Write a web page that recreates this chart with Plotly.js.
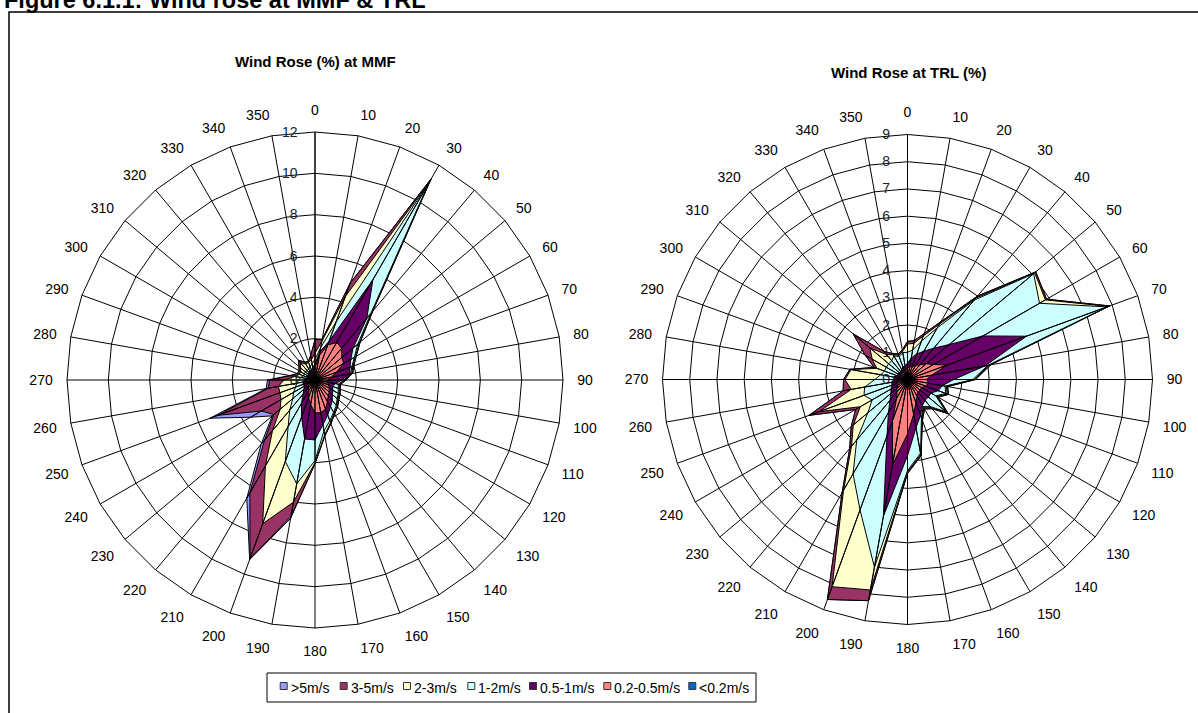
<!DOCTYPE html>
<html>
<head>
<meta charset="utf-8">
<script src="https://cdn.plot.ly/plotly-3.0.1.min.js"></script>
<style>
  html, body { margin: 0; padding: 0; background: #fff; }
  #chart { width: 1198px; height: 713px; }
</style>
</head>
<body>
<div id="chart"></div>
<script>
// Wind direction sectors (degrees from north)
const directions = ['0','10','20','30','40','50','60','70','80','90','100','110',
  '120','130','140','150','160','170','180','190','200','210','220','230',
  '240','250','260','270','280','290','300','310','320','330','340','350'];

// Speed classes, outermost band first
const speedClasses = ['>5m/s', '3-5m/s', '2-3m/s', '1-2m/s', '0.5-1m/s', '0.2-0.5m/s', '<0.2m/s'];

// MMF: cumulative frequency (%) up to each speed class, per direction
const mmfAbove5 = [1.95,2.0,5.0,11.25,4.35,2.85,2.3,2.0,1.85,1.5,1.25,1.3,
  1.4,1.5,1.7,1.9,2.25,2.75,4.05,6.8,9.25,6.6,4.05,2.7,
  3.6,5.4,2.4,2.3,1.25,0.9,0.9,1.0,1.25,1.0,0.95,1.2];
const mmf3to5 = [1.95,2.0,5.0,11.2,4.35,2.85,2.3,2.0,1.85,1.5,1.25,1.3,
  1.4,1.5,1.7,1.9,2.25,2.75,4.05,6.7,9.2,6.3,3.8,2.6,
  3.0,5.0,2.3,2.2,1.2,0.9,0.9,1.0,1.25,1.0,0.95,1.2];
const mmf2to3 = [1.3,1.9,4.3,11.1,4.3,2.8,2.25,1.95,1.8,1.45,1.2,1.25,
  1.35,1.45,1.65,1.85,2.2,2.7,4.0,6.0,7.4,4.8,3.2,2.2,
  1.9,1.8,1.8,1.5,1.0,0.8,0.8,0.9,1.1,0.9,0.9,1.0];
const mmf1to2 = [1.0,1.6,3.0,11.0,4.2,2.7,2.2,1.9,1.75,1.4,1.15,1.2,
  1.3,1.4,1.6,1.8,2.1,2.5,3.9,5.1,4.2,2.6,1.9,1.4,
  1.2,1.0,0.9,0.8,0.7,0.6,0.6,0.6,0.6,0.6,0.7,0.8];
const mmf05to1 = [0.8,1.4,2.0,5.6,3.9,2.4,2.0,1.8,1.7,1.3,1.0,0.9,
  1.0,1.1,1.3,1.5,1.8,2.2,2.9,2.9,1.9,1.3,0.9,0.7,
  0.6,0.6,0.6,0.5,0.4,0.4,0.4,0.4,0.5,0.5,0.5,0.6];
const mmf02to05 = [0.6,1.2,1.8,2.1,2.0,1.7,1.6,1.1,0.8,0.6,0.6,0.7,
  0.8,0.9,1.0,1.2,1.5,1.6,1.6,1.2,0.9,0.6,0.5,0.4,
  0.4,0.4,0.4,0.4,0.3,0.3,0.3,0.3,0.3,0.3,0.3,0.4];
const mmfBelow02 = [0.15,0.15,0.15,0.15,0.15,0.15,0.15,0.15,0.15,0.15,0.15,0.15,
  0.15,0.15,0.15,0.15,0.15,0.15,0.15,0.15,0.15,0.15,0.15,0.15,
  0.15,0.15,0.15,0.15,0.15,0.15,0.15,0.15,0.15,0.15,0.15,0.15];

// TRL: cumulative frequency (%) up to each speed class, per direction
const trlAbove5 = [1.4,1.45,1.8,2.45,4.0,6.15,5.9,7.9,3.1,2.5,1.5,1.6,
  1.3,1.95,1.4,1.25,1.6,2.85,3.45,8.25,8.6,4.8,3.3,2.7,
  2.2,3.85,2.4,2.35,2.15,1.3,1.8,2.6,1.35,1.1,1.0,1.1];
const trl3to5 = [1.4,1.45,1.8,2.45,4.0,6.15,5.9,7.9,3.1,2.5,1.5,1.6,
  1.3,1.95,1.4,1.25,1.6,2.85,3.45,8.25,8.6,4.8,3.3,2.7,
  2.2,3.85,2.4,2.35,2.15,1.3,1.8,2.6,1.35,1.1,1.0,1.1];
const trl2to3 = [1.3,1.35,1.7,2.35,3.9,6.1,5.85,7.85,3.05,2.45,1.45,1.55,
  1.25,1.9,1.35,1.2,1.55,2.8,3.4,7.85,8.1,4.7,3.2,2.6,
  2.0,3.45,2.1,2.3,2.1,1.2,1.5,1.8,1.2,1.05,0.95,1.05];
const trl1to2 = [1.0,1.1,1.5,2.2,3.8,6.05,5.6,7.8,3.0,2.4,1.4,1.5,
  1.2,1.85,1.3,1.15,1.5,2.75,3.35,7.0,5.1,4.0,2.9,1.9,
  1.5,1.7,1.6,1.2,1.0,0.9,0.9,0.9,0.9,1.0,0.9,1.0];
const trl05to1 = [0.6,0.8,1.0,1.2,1.5,2.0,3.2,4.65,2.9,1.7,1.3,1.2,
  1.0,1.0,1.0,1.1,1.4,1.8,2.8,5.1,2.2,1.4,1.0,0.8,
  0.7,0.6,0.6,0.5,0.5,0.4,0.4,0.4,0.4,0.4,0.5,0.5];
const trl02to05 = [0.4,0.5,0.5,0.6,0.7,0.9,1.1,1.55,0.9,0.7,0.8,0.7,
  0.6,0.6,0.6,0.7,0.9,1.3,2.0,3.2,1.6,0.8,0.6,0.5,
  0.4,0.4,0.4,0.3,0.3,0.3,0.3,0.3,0.3,0.3,0.3,0.4];
const trlBelow02 = [0.15,0.15,0.15,0.15,0.15,0.15,0.15,0.15,0.15,0.15,0.15,0.15,
  0.15,0.15,0.15,0.15,0.15,0.15,0.15,0.15,0.15,0.15,0.15,0.15,
  0.15,0.15,0.15,0.15,0.15,0.15,0.15,0.15,0.15,0.15,0.15,0.15];

// Radial tick values for each rose
const mmfRadialTicks = [0, 2, 4, 6, 8, 10, 12];
const trlRadialTicks = [0, 1, 2, 3, 4, 5, 6, 7, 8, 9];

// ---- styling ----
const classColors = ['#9999FF', '#993366', '#FFFFCC', '#CCFFFF', '#660066', '#FF8080', '#0066CC'];
const FONT = 'Liberation Sans, Arial, Helvetica, sans-serif';
const W = 1198, H = 713;
const px = x => x / W;
const py = y => 1 - y / H;

// Each band is drawn as a fan of triangles from the centre, so every
// data point also gets a radial edge line, as in a filled radar chart.
function fan(values) {
  const th = [], r = [];
  const n = directions.length;
  for (let i = 0; i < n; i++) {
    const j = (i + 1) % n;
    th.push(directions[i], directions[i], directions[j]);
    r.push(0, values[i], values[j]);
  }
  th.push(directions[0]);
  r.push(0);
  return { th, r };
}

function bandTraces(seriesList, subplot) {
  return seriesList.map((vals, k) => {
    const f = fan(vals);
    return {
      type: 'scatterpolar',
      subplot: subplot,
      theta: f.th,
      r: f.r,
      mode: 'lines',
      fill: 'toself',
      fillcolor: classColors[k],
      line: { color: '#000', width: 1 },
      name: speedClasses[k],
      showlegend: false,
      hoverinfo: 'skip'
    };
  });
}

const mmfSeries = [mmfAbove5, mmf3to5, mmf2to3, mmf1to2, mmf05to1, mmf02to05, mmfBelow02];
const trlSeries = [trlAbove5, trl3to5, trl2to3, trl1to2, trl05to1, trl02to05, trlBelow02];

const data = bandTraces(mmfSeries, 'polar').concat(bandTraces(trlSeries, 'polar2'));

function polarLayout(cx, cy, rad, ticks) {
  return {
    domain: { x: [px(cx - rad), px(cx + rad)], y: [py(cy + rad), py(cy - rad)] },
    bgcolor: '#fff',
    gridshape: 'linear',
    angularaxis: {
      type: 'category',
      categoryorder: 'array',
      categoryarray: directions,
      direction: 'clockwise',
      rotation: 90,
      showgrid: true,
      gridcolor: '#000',
      gridwidth: 1,
      showline: true,
      linecolor: '#000',
      linewidth: 1,
      ticks: 'outside',
      ticklen: 11,
      tickcolor: 'rgba(0,0,0,0)',
      tickfont: { family: FONT, size: 14, color: '#000' }
    },
    radialaxis: {
      range: [0, ticks[ticks.length - 1]],
      tickmode: 'array',
      tickvals: ticks,
      ticktext: ticks.map(String),
      angle: 90,
      side: 'counterclockwise',
      tickangle: 90,
      showgrid: true,
      gridcolor: '#000',
      gridwidth: 1,
      showline: true,
      linecolor: '#000',
      linewidth: 1,
      ticks: 'outside',
      ticklen: 12,
      tickcolor: 'rgba(0,0,0,0)',
      tickfont: { family: FONT, size: 14, color: '#222' }
    }
  };
}

// Legend drawn as a boxed row of swatches
const legendSwatchX = [280.7, 340.7, 404, 468.3, 530, 604.3, 689.3];
const shapes = [
  { type: 'rect', xref: 'paper', yref: 'paper', x0: px(9), x1: px(1210), y0: py(12), y1: py(730),
    line: { color: '#000', width: 1.5 }, fillcolor: 'rgba(0,0,0,0)', layer: 'below' },
  { type: 'rect', xref: 'paper', yref: 'paper', x0: px(267), x1: px(756), y0: py(673), y1: py(702),
    line: { color: '#000', width: 1 }, fillcolor: '#fff' }
];
const annotations = [
  { text: '<b>Figure 6.1.1: Wind rose at MMF & TRL</b>', xref: 'paper', yref: 'paper',
    x: px(2), y: py(15), xanchor: 'left', yanchor: 'bottom', showarrow: false,
    font: { family: FONT, size: 23.5, color: '#000' } },
  { text: '<b>Wind Rose (%) at MMF</b>', xref: 'paper', yref: 'paper',
    x: px(315), y: py(62), xanchor: 'center', yanchor: 'middle', showarrow: false,
    font: { family: FONT, size: 15, color: '#000' } },
  { text: '<b>Wind Rose at TRL (%)</b>', xref: 'paper', yref: 'paper',
    x: px(908), y: py(72), xanchor: 'center', yanchor: 'middle', showarrow: false,
    font: { family: FONT, size: 15, color: '#000' } }
];
speedClasses.forEach((name, k) => {
  const x = legendSwatchX[k];
  shapes.push({ type: 'rect', xref: 'paper', yref: 'paper',
    x0: px(x - 0.5), x1: px(x + 6.5), y0: py(682.5), y1: py(689.5),
    line: { color: '#333', width: 1 }, fillcolor: classColors[k] });
  annotations.push({ text: name, xref: 'paper', yref: 'paper',
    x: px(x + 8), y: py(688), xanchor: 'left', yanchor: 'middle', showarrow: false,
    font: { family: FONT, size: 14, color: '#000' } });
});

const layout = {
  width: W,
  height: H,
  margin: { l: 0, r: 0, t: 0, b: 0 },
  paper_bgcolor: '#fff',
  showlegend: false,
  polar: polarLayout(315, 380, 248, mmfRadialTicks),
  polar2: polarLayout(907.5, 379.5, 245, trlRadialTicks),
  shapes: shapes,
  annotations: annotations
};

Plotly.newPlot('chart', data, layout, { staticPlot: true, displayModeBar: false });
</script>
</body>
</html>
